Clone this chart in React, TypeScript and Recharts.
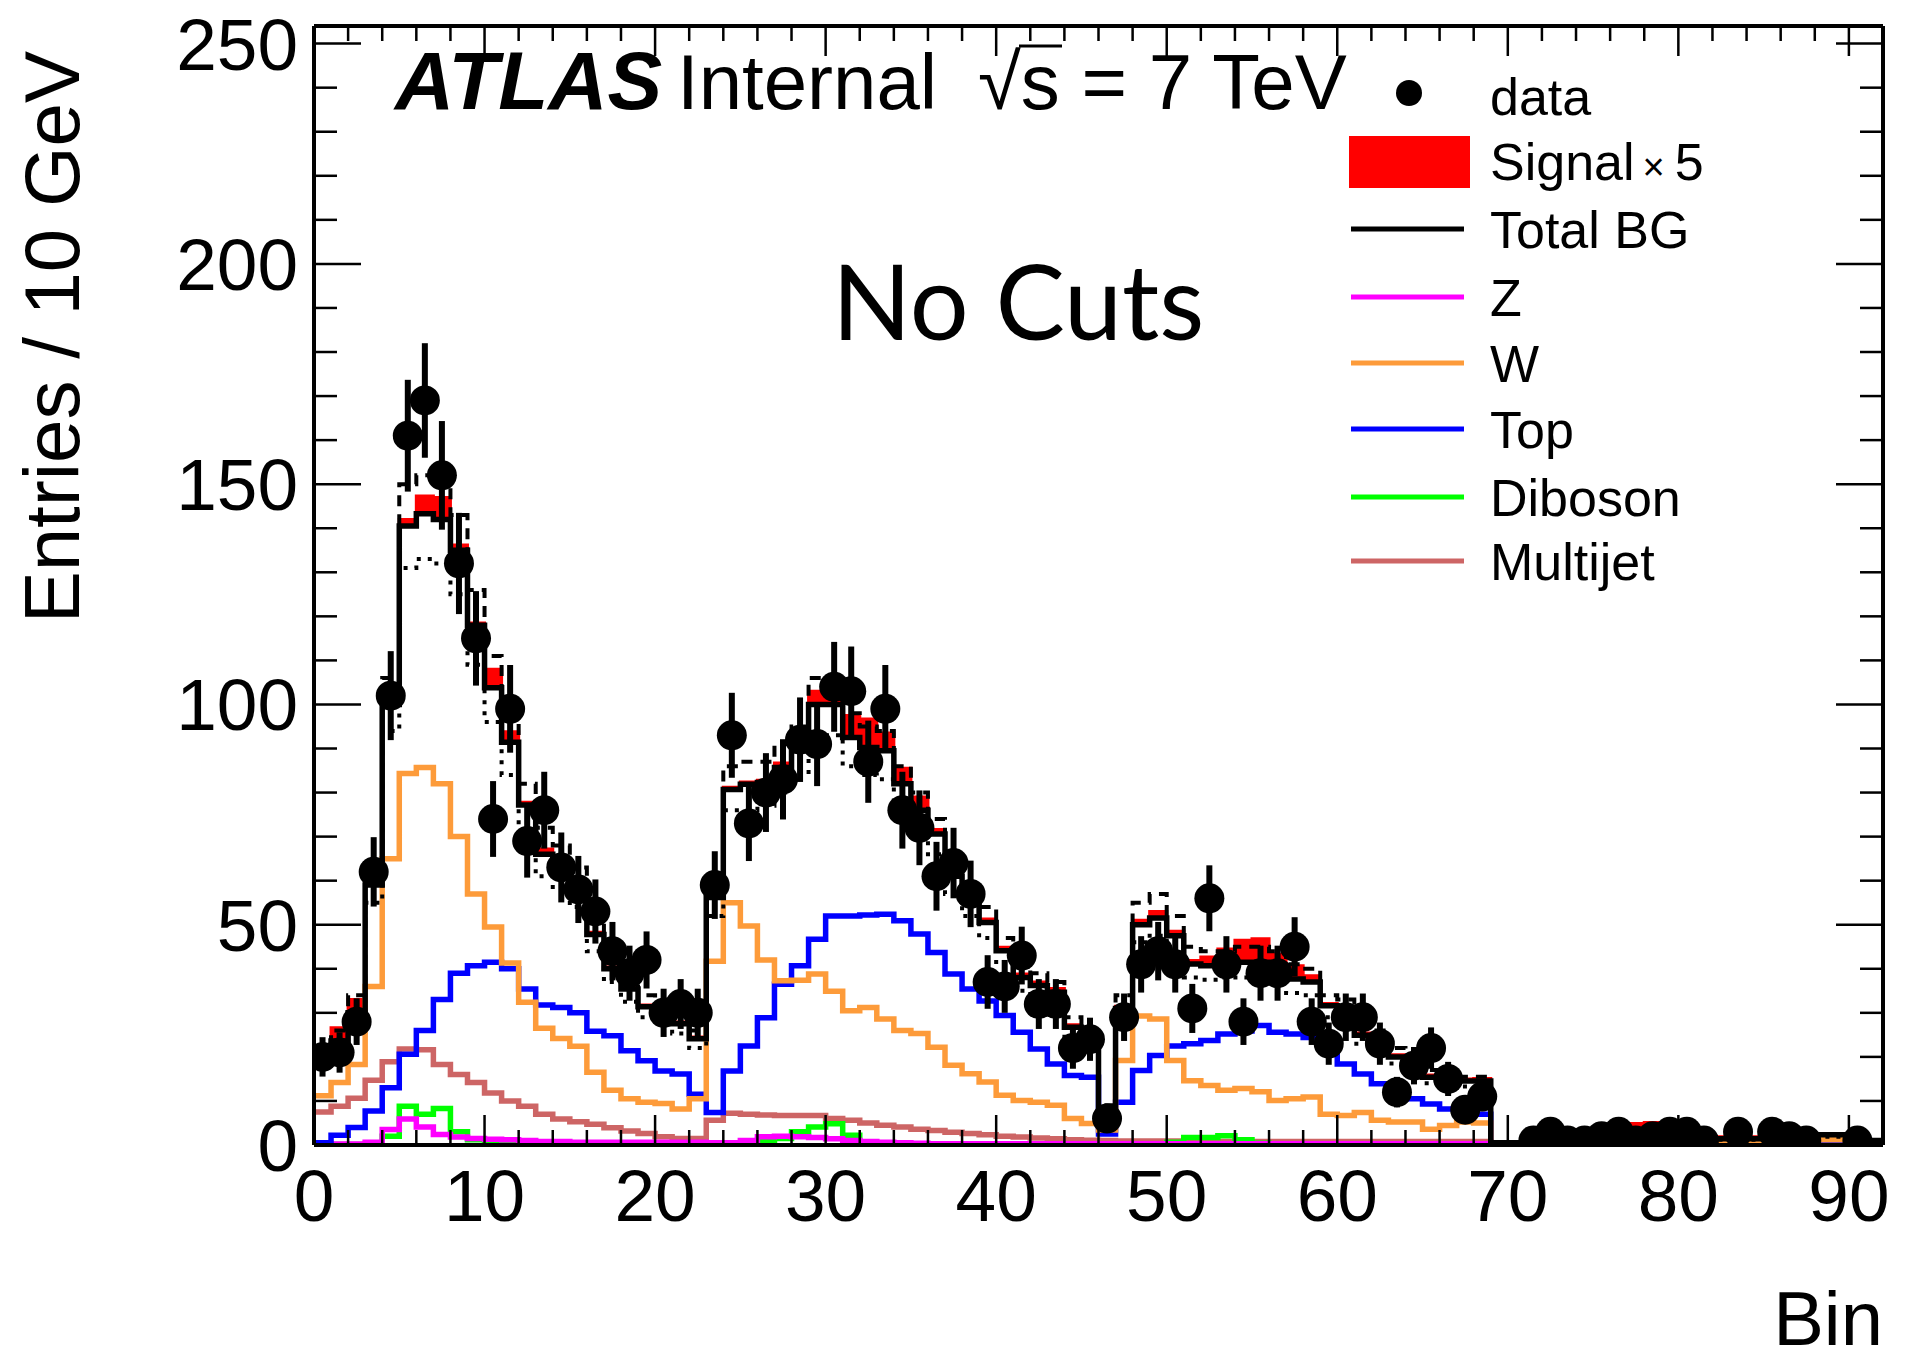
import { ComposedChart, Line, Area, Scatter, ErrorBar, XAxis, YAxis } from "recharts";

// 92 bins of width 1, bin i spans [i, i+1]
const nBins = 92;

const dataCounts: (number | null)[] = [
  20, 21, 28, 62, 102, 161, 169, 152, 132, 115,
  74, 99, 69, 76, 63, 58, 53, 44, 39, 42,
  30, 32, 30, 59, 93, 73, 80, 83, 92, 91,
  104, 103, 87, 99, 76, 72, 61, 64, 57, 37,
  36, 43, 32, 32, 22, 24, 6, 29, 41, 44,
  41, 31, 56, 41, 28, 39, 39, 45, 28, 23,
  29, 29, 23, 12, 18, 22, 15, 8, 11, null,
  null, 1, 3, 1, 1, 2, 3, 1, 2, 3,
  3, 1, null, 3, null, 3, 2, 1, null, null,
  1, null,
];

const totalBG = [
  20.5, 23.6, 30, 59, 100, 140.5, 143.3, 142, 135, 118,
  103.8, 91.4, 77.2, 66, 63, 59, 47.8, 40, 35.4, 31.4,
  30.5, 27.5, 24.1, 56.2, 80.7, 81.9, 82.3, 85.7, 89.5, 100,
  100, 92.5, 90.2, 89.5, 82, 76, 70.6, 61, 55.4, 50.5,
  44.1, 38, 36.2, 34.7, 26.7, 24.4, 8, 31, 50, 51.5,
  47.5, 41.1, 40.7, 41, 41.5, 41.5, 40.7, 37.7, 37, 31.6,
  30.5, 24.9, 24.1, 20, 18, 15.4, 14, 14.5, 14.5, 0.5,
  0.5, 0.6, 2.8, 2.8, 2.7, 2.6, 2.8, 2.9, 2.8, 2.0,
  2.0, 1.8, 1.4, 1.4, 1.4, 1.4, 1.6, 2.3, 2.3, 2.3,
  2.2, 1.0,
];

// signal x 5, stacked on top of the total background
const signalX5 = [
  0.3, 3, 3, 0.5, 1, 1.5, 4, 5, 1.2, 0.5,
  4.2, 2.4, 0.6, 1.2, 0.5, 0.5, 0.5, 0.4, 0.4, 0.4,
  0.4, 0.4, 0.4, 0.5, 0.5, 0.5, 0.5, 1, 2, 3,
  3, 5, 6.5, 4, 3.5, 3, 1, 1, 0.8, 0.8,
  0.8, 0.8, 0.8, 0.8, 0.6, 0.6, 0.3, 0.5, 1, 1.5,
  1, 0.8, 2, 3.5, 5, 5.3, 2.6, 3, 1.4, 0.5,
  0.5, 0.5, 0.5, 0.5, 0.5, 0.5, 0.5, 0.5, 0.6, 0.1,
  0.1, 0.1, 0.6, 0.7, 0.8, 1, 1.2, 2, 2.3, 1.5,
  1.5, 0.5, 0.5, 0.5, 0.5, 0.4, 0.4, 0.4, 0.3, 0.3,
  0.2, 0.2,
];

const wJets = [
  11.2, 14.2, 18.3, 36, 65, 84.3, 85.7, 82, 70, 57,
  49.5, 41.3, 32.4, 26.5, 24.2, 22.4, 16.5, 12.4, 10.5, 9.7,
  9.4, 8.2, 10.5, 41.7, 55, 49.7, 42, 37.3, 37.4, 38.8,
  34.9, 30.5, 31.2, 28.6, 26, 25.3, 22.2, 18.1, 16.2, 14.3,
  11.3, 10.1, 9.7, 9, 6, 4.9, 3.4, 19.2, 29.3, 28.6,
  19.2, 14.6, 13.5, 12.4, 12.8, 12.1, 10.1, 10.5, 10.9, 7,
  6.7, 7.4, 5.6, 5.2, 5.2, 3.6, 4.4, 5.2, 5, 0.2,
  0.2, 0.3, 1.3, 1.4, 1.3, 1.4, 1.3, 1.4, 1.3, 0.9,
  0.9, 0.9, 0.7, 0.7, 0.7, 0.7, 0.7, 1.2, 1.2, 1.2,
  1.0, 0.4,
];

const top = [
  0.5, 2.2, 4, 7.7, 13, 20.6, 26, 33, 39, 40.7,
  41.5, 40, 35.4, 31.8, 31.2, 30, 25.8, 24.8, 21.4, 19.1,
  16.8, 16.1, 11.5, 7.4, 16.8, 22.5, 28.9, 36.5, 40.7, 46.7,
  52, 52, 52.2, 52.4, 50.9, 47.9, 43.7, 38.8, 35.4, 32.7,
  29.4, 25.6, 21.8, 18.4, 15.8, 15.4, 2.5, 9.7, 16.9, 20.3,
  22.5, 23, 23.7, 25.2, 25.9, 27.1, 25.6, 25.2, 24.4, 23.3,
  18.4, 16.1, 13.9, 11.6, 10.5, 9.3, 8.2, 7.5, 7, 0.1,
  0.1, 0.2, 1.0, 1.0, 1.0, 1.0, 1.0, 1.0, 1.0, 0.5,
  0.5, 0.5, 0.5, 0.5, 0.5, 0.5, 0.5, 0.8, 0.8, 0.8,
  0.8, 0.4,
];

const multijet = [
  7.5, 8.8, 10.6, 14.7, 18.9, 21.8, 21.6, 18.3, 16, 14.2,
  11.8, 10, 8.8, 7, 5.9, 5.3, 4.7, 3.9, 3.2, 2.6,
  1.9, 1.5, 1.5, 5.6, 7.2, 7, 6.8, 6.7, 6.7, 6.7,
  6, 5.6, 5, 4.5, 4.1, 3.6, 3.3, 2.9, 2.6, 2.3,
  2, 1.8, 1.6, 1.4, 1.2, 1.1, 1, 0.9, 0.9, 0.9,
  0.9, 0.8, 0.8, 0.8, 0.8, 0.8, 0.8, 0.8, 0.8, 0.8,
  0.8, 0.8, 0.8, 0.8, 0.8, 0.8, 0.8, 0.8, 0.8, 0.3,
  0.3, 0.3, 0.3, 0.3, 0.3, 0.3, 0.3, 0.3, 0.3, 0.3,
  0.3, 0.3, 0.3, 0.3, 0.3, 0.3, 0.3, 0.3, 0.3, 0.3,
  0.3, 0.3,
];

const diboson = [
  0.1, 0.1, 0.1, 0.2, 2, 8.8, 7, 8.3, 3, 1.2,
  0.8, 0.6, 0.5, 0.4, 0.4, 0.4, 0.4, 0.4, 0.4, 0.4,
  0.4, 0.4, 0.4, 0.4, 0.4, 0.5, 1, 1.5, 3, 4.1,
  4.8, 2.2, 0.4, 0.3, 0.3, 0.3, 0.3, 0.3, 0.3, 0.3,
  0.3, 0.3, 0.3, 0.3, 0.3, 0.3, 0.3, 0.3, 0.3, 0.3,
  0.6, 1.7, 1.7, 2.1, 1.2, 0.4, 0.2, 0.2, 0.2, 0.2,
  0.2, 0.2, 0.2, 0.2, 0.2, 0.2, 0.2, 0.2, 0.2, 0.1,
  0.1, 0.1, 0.1, 0.1, 0.1, 0.1, 0.1, 0.1, 0.1, 0.1,
  0.1, 0.1, 0.1, 0.1, 0.1, 0.1, 0.1, 0.1, 0.1, 0.1,
  0.1, 0.1,
];

const zJets = [
  0.2, 0.2, 0.2, 0.6, 3.5, 5.9, 4.1, 2.4, 1.8, 1.5,
  1.3, 1.2, 1, 0.8, 0.8, 0.6, 0.6, 0.6, 0.6, 0.6,
  0.6, 0.6, 0.6, 0.5, 0.5, 1, 1.9, 2, 1.9, 1.7,
  1.4, 1, 0.8, 0.6, 0.5, 0.4, 0.3, 0.3, 0.3, 0.3,
  0.3, 0.3, 0.3, 0.3, 0.3, 0.3, 0.3, 0.3, 0.3, 0.3,
  0.3, 0.3, 0.3, 0.3, 0.3, 0.3, 0.3, 0.3, 0.3, 0.3,
  0.3, 0.3, 0.3, 0.3, 0.3, 0.3, 0.3, 0.3, 0.3, 0.1,
  0.1, 0.1, 0.1, 0.1, 0.1, 0.1, 0.1, 0.1, 0.1, 0.1,
  0.1, 0.1, 0.1, 0.1, 0.1, 0.1, 0.1, 0.1, 0.1, 0.1,
  0.1, 0.1,
];

// systematic variations of the total background
const systUp = [
  22, 26, 34, 64, 106, 150, 152, 150, 143, 126,
  111, 98, 82, 72, 68, 63, 52, 44, 39, 34,
  33, 30, 26, 60, 86, 87, 87, 91, 95, 106,
  106, 98, 95, 94, 86, 80, 74, 65, 59, 54,
  47, 41, 39, 37, 29, 26, 9, 34, 55, 57,
  52, 45, 44, 44, 45, 45, 44, 41, 40, 34,
  33, 27, 26, 22, 19.5, 17, 15, 15.5, 15.5, 0.6,
  0.6, 0.7, 3.0, 3.0, 2.9, 2.8, 3.0, 3.1, 3.0, 2.2,
  2.2, 2.0, 1.6, 1.6, 1.6, 1.6, 1.8, 2.5, 2.5, 2.5,
  2.4, 1.1,
];

const systDown = [
  19, 21.5, 27.5, 55, 94, 131, 133, 132, 125, 109,
  96, 84, 71, 61, 58, 54, 44, 37, 32.5, 29,
  28, 25.3, 22, 52, 76, 76, 77, 80, 84, 93,
  93, 86, 84, 83, 76, 71, 66, 57, 52, 47,
  41, 35, 33.5, 32, 24.5, 22.5, 7, 28.5, 46, 47.5,
  43.5, 38, 37.5, 38, 38, 38, 37.5, 34.5, 34, 29,
  28, 23, 22, 18.5, 16.5, 14, 13, 13.3, 13.3, 0.4,
  0.4, 0.5, 2.5, 2.5, 2.4, 2.3, 2.5, 2.6, 2.5, 1.8,
  1.8, 1.6, 1.2, 1.2, 1.2, 1.2, 1.4, 1.9, 1.9, 1.9,
  1.8, 0.9,
];

const xTicks = Array.from({ length: 46 }, (_, i) => i * 2);
const yTicks = Array.from({ length: 26 }, (_, i) => i * 10);

const FONT = "'Liberation Sans', Arial, Helvetica, sans-serif";

const BottomTick = ({ x, y, payload }: any) => {
  const major = payload.value % 10 === 0;
  return (
    <g>
      <line x1={x} y1={y} x2={x} y2={y - (major ? 30 : 15)} stroke="#000" strokeWidth={2.5} />
      {major && (
        <text x={x} y={y + 76} textAnchor="middle" fontSize={73} fontFamily={FONT} fill="#000">
          {payload.value}
        </text>
      )}
    </g>
  );
};

const TopTick = ({ x, y, payload }: any) => {
  const major = payload.value % 10 === 0;
  return <line x1={x} y1={y} x2={x} y2={y + (major ? 30 : 15)} stroke="#000" strokeWidth={2.5} />;
};

const LeftTick = ({ x, y, payload }: any) => {
  const major = payload.value % 50 === 0;
  return (
    <g>
      <line x1={x} y1={y} x2={x + (major ? 47 : 23)} y2={y} stroke="#000" strokeWidth={2.5} />
      {major && (
        <text x={x - 16} y={y + 26} textAnchor="end" fontSize={73} fontFamily={FONT} fill="#000">
          {payload.value}
        </text>
      )}
    </g>
  );
};

const RightTick = ({ x, y, payload }: any) => {
  const major = payload.value % 50 === 0;
  return <line x1={x} y1={y} x2={x - (major ? 47 : 23)} y2={y} stroke="#000" strokeWidth={2.5} />;
};

const DataDot = ({ cx, cy }: any) => <circle cx={cx} cy={cy} r={15} fill="#000" />;

const legendLines = [
  { label: "Total BG", color: "#000000", y: 248 },
  { label: "Z", color: "#ff00ff", y: 316 },
  { label: "W", color: "#fd9b3a", y: 382 },
  { label: "Top", color: "#0000ff", y: 448 },
  { label: "Diboson", color: "#00ff00", y: 516 },
  { label: "Multijet", color: "#cd6565", y: 580 },
];

export default function App() {
  // histogram edges: point i carries bin i, the last edge repeats bin 91 to close the step
  const rows = Array.from({ length: nBins + 1 }, (_, i) => {
    const b = Math.min(i, nBins - 1);
    return {
      x: i,
      total: totalBG[b],
      band: [totalBG[b], totalBG[b] + signalX5[b]],
      w: wJets[b],
      top: top[b],
      mj: multijet[b],
      vv: diboson[b],
      z: zJets[b],
      up: systUp[b],
      down: systDown[b],
    };
  });

  const points = dataCounts
    .map((v, i) => (v == null ? null : { x: i + 0.5, y: v, err: Math.sqrt(v) }))
    .filter((p) => p !== null);

  const axisLine = { stroke: "#000", strokeWidth: 4 };

  return (
    <div style={{ position: "absolute", left: 0, top: 0, width: 1905, height: 1360, background: "#fff" }}>
      <ComposedChart
        width={1905}
        height={1360}
        data={rows}
        margin={{ top: 25, right: 21, bottom: 214, left: 313 }}
      >
        <XAxis
          dataKey="x"
          type="number"
          domain={[0, 92]}
          allowDataOverflow
          ticks={xTicks}
          interval={0}
          height={1}
          tickSize={0}
          tickMargin={0}
          tickLine={false}
          axisLine={axisLine}
          tick={<BottomTick />}
        />
        <XAxis
          xAxisId="top"
          orientation="top"
          dataKey="x"
          type="number"
          domain={[0, 92]}
          allowDataOverflow
          ticks={xTicks}
          interval={0}
          height={1}
          tickSize={0}
          tickMargin={0}
          tickLine={false}
          axisLine={axisLine}
          tick={<TopTick />}
        />
        <YAxis
          type="number"
          domain={[0, 254]}
          allowDataOverflow
          ticks={yTicks}
          interval={0}
          width={1}
          tickSize={0}
          tickMargin={0}
          tickLine={false}
          axisLine={axisLine}
          tick={<LeftTick />}
        />
        <YAxis
          yAxisId="right"
          orientation="right"
          type="number"
          domain={[0, 254]}
          allowDataOverflow
          ticks={yTicks}
          interval={0}
          width={1}
          tickSize={0}
          tickMargin={0}
          tickLine={false}
          axisLine={axisLine}
          tick={<RightTick />}
        />

        <Area
          dataKey="band"
          type="stepAfter"
          fill="#ff0000"
          fillOpacity={1}
          stroke="#ff0000"
          strokeWidth={3}
          dot={false}
          activeDot={false}
          isAnimationActive={false}
        />
        <Line dataKey="mj" type="stepAfter" stroke="#cd6565" strokeWidth={5.5} dot={false} activeDot={false} isAnimationActive={false} />
        <Line dataKey="vv" type="stepAfter" stroke="#00ff00" strokeWidth={5.5} dot={false} activeDot={false} isAnimationActive={false} />
        <Line dataKey="z" type="stepAfter" stroke="#ff00ff" strokeWidth={5.5} dot={false} activeDot={false} isAnimationActive={false} />
        <Line dataKey="top" type="stepAfter" stroke="#0000ff" strokeWidth={5.5} dot={false} activeDot={false} isAnimationActive={false} />
        <Line dataKey="w" type="stepAfter" stroke="#fd9b3a" strokeWidth={5.5} dot={false} activeDot={false} isAnimationActive={false} />
        <Line dataKey="total" type="stepAfter" stroke="#000" strokeWidth={5.5} dot={false} activeDot={false} isAnimationActive={false} />
        <Line dataKey="up" type="stepAfter" stroke="#000" strokeWidth={4} strokeDasharray="11 8" dot={false} activeDot={false} isAnimationActive={false} />
        <Line dataKey="down" type="stepAfter" stroke="#000" strokeWidth={4} strokeDasharray="4 7" dot={false} activeDot={false} isAnimationActive={false} />
        <Scatter data={points} dataKey="y" shape={<DataDot />} isAnimationActive={false}>
          <ErrorBar dataKey="err" direction="y" width={0} stroke="#000" strokeWidth={6} />
        </Scatter>
      </ComposedChart>

      <svg
        width={1905}
        height={1360}
        style={{ position: "absolute", left: 0, top: 0, pointerEvents: "none" }}
      >
        <g fontFamily={FONT} fill="#000">
          <text x={395} y={109} fontSize={82} fontWeight="bold" fontStyle="italic">ATLAS</text>
          <text x={677} y={109} fontSize={78}>Internal</text>
          <text x={978} y={109} fontSize={78}>√s = 7 TeV</text>
          <line x1={1019} y1={46} x2={1062} y2={46} stroke="#000" strokeWidth={3} />

          <text x={832} y={340} fontSize={104} fontFamily="Lato, 'Open Sans', sans-serif">No Cuts</text>

          <circle cx={1409} cy={93} r={13} fill="#000" />
          <text x={1490} y={115} fontSize={52}>data</text>

          <rect x={1349} y={136} width={121} height={52} fill="#ff0000" />
          <text x={1490} y={180} fontSize={52}>
            Signal<tspan fontSize={38} dx={8}>×</tspan><tspan dx={10}>5</tspan>
          </text>

          {legendLines.map((l) => (
            <g key={l.label}>
              <line x1={1351} y1={l.y - 19} x2={1464} y2={l.y - 19} stroke={l.color} strokeWidth={5} />
              <text x={1490} y={l.y} fontSize={52}>{l.label}</text>
            </g>
          ))}

          <text
            transform="translate(79, 51) rotate(-90)"
            textAnchor="end"
            fontSize={78}
          >
            Entries / 10 GeV
          </text>
          <text x={1883} y={1345} textAnchor="end" fontSize={76}>Bin</text>
        </g>
      </svg>
    </div>
  );
}
